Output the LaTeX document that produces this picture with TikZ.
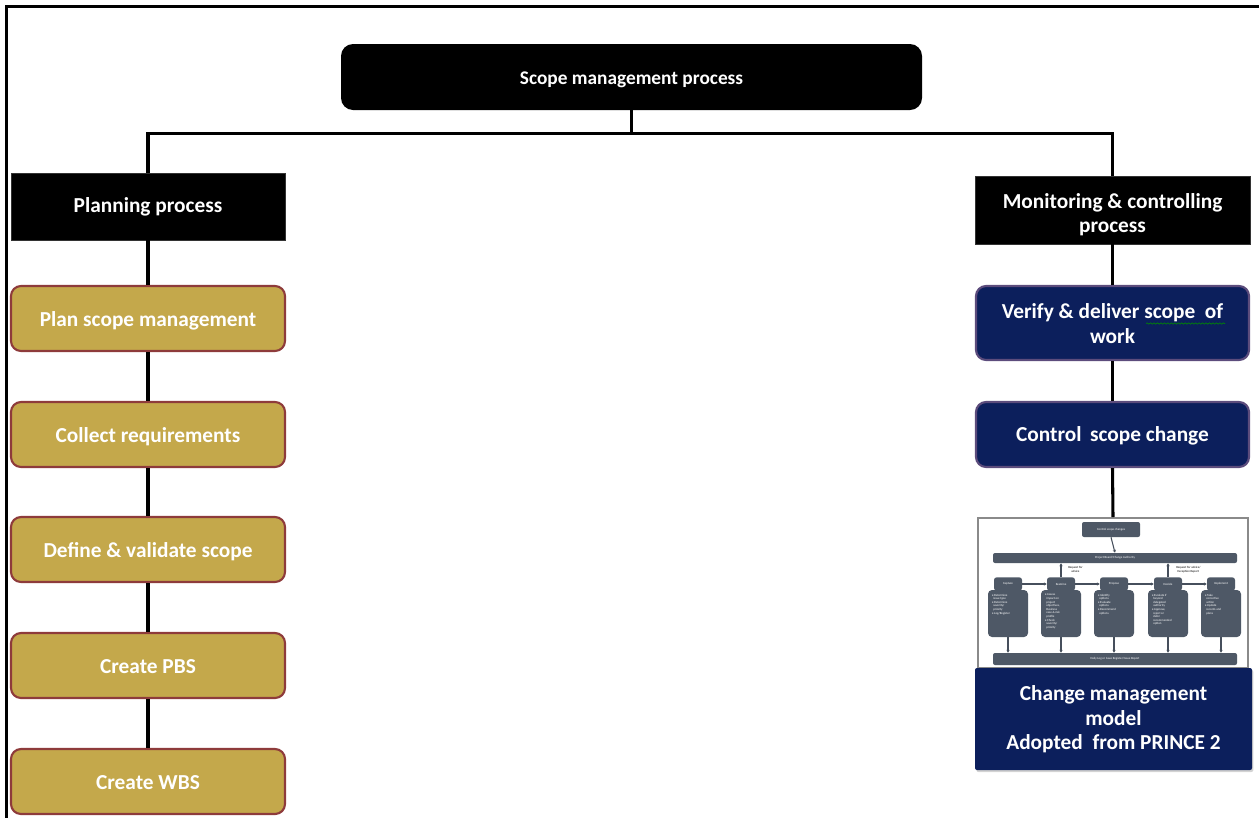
\documentclass[tikz,border=0pt]{standalone}
\usepackage{fontspec}
\setmainfont{Carlito}
\usetikzlibrary{arrows.meta,shadows,decorations.pathmorphing}
\definecolor{gold}{HTML}{C4A84B}
\definecolor{goldedge}{HTML}{8E3B3B}
\definecolor{navy}{HTML}{0C1F5C}
\definecolor{navyedge}{HTML}{5C4C7C}
\definecolor{slate}{HTML}{4E5866}
\definecolor{framegray}{HTML}{8A8A8A}

% box label: last baseline placed #1 above the node centre
\newcommand\boxtext[2]{\raisebox{#1}[0pt][0pt]{\begin{tabular}[b]{@{}c@{}}#2\end{tabular}}}

\begin{document}
\begin{tikzpicture}[x=0.75pt,y=-0.75pt,
  label font/.style={font=\fontsize{16}{18.6}\selectfont\bfseries},
  basebox/.style={align=center, text=white, inner sep=0pt, label font},
  headbox/.style={basebox, fill=black, draw=black!80, line width=0.6pt},
  goldbox/.style={basebox, fill=gold, draw=goldedge, line width=1.6pt,
    rounded corners=7.5pt, minimum width=205.5pt, minimum height=48.75pt},
  navybox/.style={basebox, fill=navy, draw=navyedge, line width=1.6pt,
    rounded corners=7.5pt, minimum width=204.75pt},
  link/.style={draw=black, line width=2.3pt},
  tiny/.style={font=\fontsize{2.3}{2.7}\selectfont, text=white, inner sep=0pt, align=center},
  slatebox/.style={fill=slate, rounded corners=1.5pt, inner sep=0pt},
  flow/.style={draw=slate!90!black, line width=0.8pt, -{Stealth[length=2.2pt,width=2.4pt]}},
]
\useasboundingbox (0,0) rectangle (1259,818);

% page frame (top and left edges)
\draw[line width=1.6pt] (1259,6.5) -- (6.5,6.5) -- (6.5,818);

% root
\node[basebox, fill=black, rounded corners=9pt, minimum width=435.75pt, minimum height=49.5pt,
      font=\fontsize{14.5}{17}\selectfont\bfseries] (root) at (631.5,77)
  {\boxtext{-5.6pt}{Scope management process}};

% branch heads
\node[headbox, minimum width=205.5pt, minimum height=50.25pt] (plan) at (148,206.5)
  {\boxtext{-4.4pt}{Planning process}};
\node[headbox, minimum width=206.25pt, minimum height=51pt] (mon) at (1112.5,210)
  {\boxtext{-17.2pt}{Monitoring \& controlling\\process}};

% planning chain
\node[goldbox] (g1) at (148,318.5) {\boxtext{-5.8pt}{Plan scope management}};
\node[goldbox] (g2) at (148,434.5) {\boxtext{-5.8pt}{Collect requirements}};
\node[goldbox] (g3) at (148,549.5) {\boxtext{-5.8pt}{Define \& validate scope}};
\node[goldbox] (g4) at (148,665.5) {\boxtext{-5.8pt}{Create PBS}};
\node[goldbox] (g5) at (148,781.5) {\boxtext{-5.8pt}{Create WBS}};

% monitoring chain
\node[navybox, minimum height=55.5pt] (n1) at (1112.5,323)
  {\boxtext{-15.2pt}{Verify \& deliver scope\ \ of\\work}};
\node[navybox, minimum height=48.75pt] (n2) at (1112.5,434.5)
  {\boxtext{-5.4pt}{Control\ \,scope change}};

% change model figure frame
\node[draw=framegray, line width=1.5pt, fill=white, minimum width=202.5pt, minimum height=112.5pt,
      inner sep=0pt] (mini) at (1113,593) {};

% change model caption box
\node[basebox, fill=navy, rounded corners=1.5pt, minimum width=207.75pt, minimum height=76.5pt,
      drop shadow={opacity=0.35, shadow xshift=1pt, shadow yshift=-1.5pt}] (cm) at (1113.5,719)
  {\boxtext{-23.2pt}{Change management\\model\\Adopted\ \ from PRINCE 2}};

% connectors
\draw[link] (root.south) -- ++(0,23.5) -| (plan.north);
\draw[link] (root.south) -- ++(0,23.5) -| (mon.north);
\draw[link] (plan) -- (g1);
\draw[link] (g1) -- (g2);
\draw[link] (g2) -- (g3);
\draw[link] (g3) -- (g4);
\draw[link] (g4) -- (g5);
\draw[link] (mon) -- (n1);
\draw[link] (n1) -- (n2);
\draw[link] (n2.south) -- (mini.north);

% spelling underline
\draw[green!55!black, line width=0.45pt, decorate,
      decoration={snake, amplitude=0.5pt, segment length=2.6pt}] (1146,323.5) -- (1225,323.5);

% ---- change control model (miniature) ----
\node[slatebox, minimum width=43.5pt, minimum height=11.25pt] (csc) at (1111,529.5) {};
\node[tiny] at (csc) {Control scope changes};
\node[slatebox, minimum width=183pt, minimum height=7.5pt] (board) at (1115,558) {};
\node[tiny] at (board) {Project Board/Change Authority};
\node[slatebox, minimum width=183pt, minimum height=9pt] (log) at (1115,659) {};
\node[tiny] at (log) {Daily Log or Issue Register/Issue Report};
\draw[flow] (csc.south) -- (board.north);

\foreach \nm/\cx/\hd/\txt in {
  cap/1008/Capture/{\textbullet\ Determine\\ \ \ issue type\\\textbullet\ Determine\\ \ \ severity/\\ \ \ priority\\\textbullet\ Log/Register},
  exa/1061/Examine/{\textbullet\ Assess\\ \ \ impact on\\ \ \ project\\ \ \ objectives,\\ \ \ Business\\ \ \ case \& risk\\ \ \ profile\\\textbullet\ Check\\ \ \ severity/\\ \ \ priority},
  pro/1114/Propose/{\textbullet\ Identify\\ \ \ options\\\textbullet\ Evaluate\\ \ \ options\\\textbullet\ Recommend\\ \ \ options},
  dec/1168/Decide/{\textbullet\ Escalate if\\ \ \ beyond\\ \ \ delegated\\ \ \ authority\\\textbullet\ Approve,\\ \ \ reject or\\ \ \ defer\\ \ \ recommended\\ \ \ option},
  imp/1221/Implement/{\textbullet\ Take\\ \ \ corrective\\ \ \ action\\\textbullet\ Update\\ \ \ records and\\ \ \ plans}}{
  \node[slatebox, minimum width=30pt, minimum height=35.25pt, rounded corners=3pt] (\nm-b) at (\cx,613.5) {};
  \node[slatebox, minimum width=21pt, minimum height=10pt, rounded corners=2pt] (\nm-h) at (\cx,584) {};
  \node[tiny] at (\nm-h) {\hd};
  \node[tiny, align=left, anchor=north west] at ([xshift=3pt,yshift=-3pt]\nm-b.north west) {\txt};
  \draw[flow] (\nm-b.south) -- (\nm-b.south |- log.north);
}
\draw[flow] (cap-h) -- (exa-h);
\draw[flow] (exa-h) -- (pro-h);
\draw[flow] (pro-h) -- (dec-h);
\draw[flow] (dec-h) -- (imp-h);
\draw[flow] (exa-h.north) -- (exa-h.north |- board.south);
\draw[flow] (dec-h.north) -- (dec-h.north |- board.south);
\node[tiny, text=black, anchor=west] (req1) at (1068,569.5) {Request for\\advice};
\node[tiny, text=black, anchor=west] (req2) at (1176,569.5) {Request for advice/\\Exception Report};
\end{tikzpicture}
\end{document}
